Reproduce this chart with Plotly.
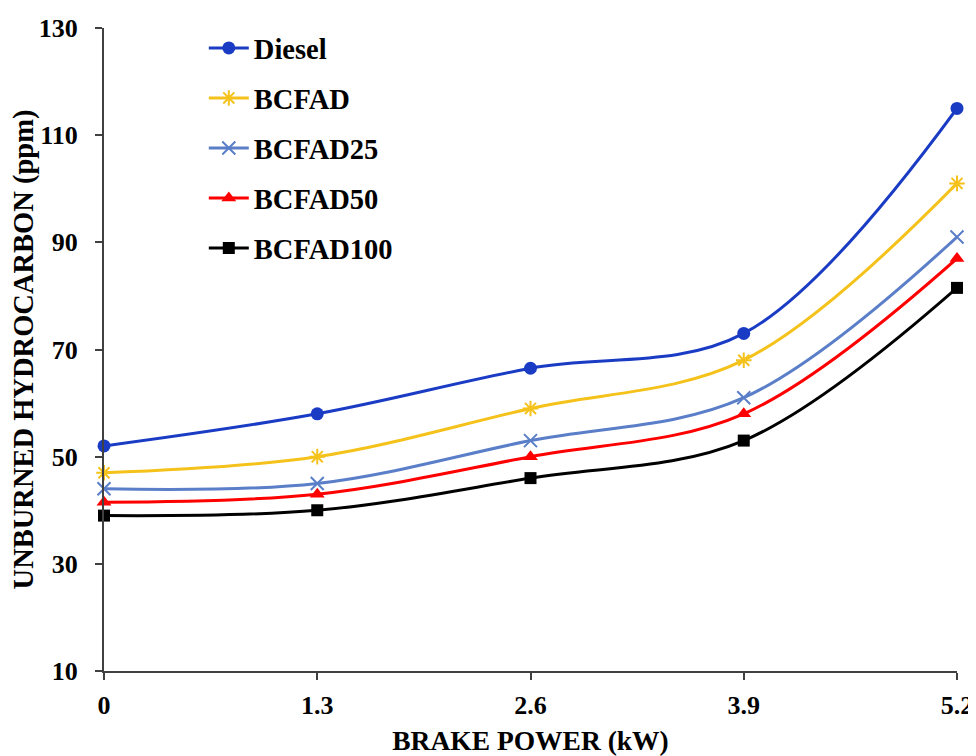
import plotly.graph_objects as go

brake_power = [0, 1.3, 2.6, 3.9, 5.2]
x_tick_labels = ["0", "1.3", "2.6", "3.9", "5.2"]
y_ticks = [10, 30, 50, 70, 90, 110, 130]

diesel = [52, 58, 66.5, 73, 115]
bcfad = [47, 50, 59, 68, 101]
bcfad25 = [44, 45, 53, 61, 91]
bcfad50 = [41.5, 43, 50, 58, 87]
bcfad100 = [39, 40, 46, 53, 81.5]

series = [
    ("Diesel", diesel, "#1a3cc4", "circle", 13),
    ("BCFAD", bcfad, "#f5c21b", "asterisk-open", 13),
    ("BCFAD25", bcfad25, "#5a7ec8", "x-thin-open", 13),
    ("BCFAD50", bcfad50, "#ff0000", "triangle-up", 13),
    ("BCFAD100", bcfad100, "#000000", "square", 12),
]

FONT = "Liberation Serif, Times New Roman, serif"

fig = go.Figure()
for i, (name, vals, color, sym, size) in enumerate(series):
    open_sym = sym.endswith("open")
    fig.add_trace(go.Scatter(
        x=brake_power, y=vals, name=name, mode="lines+markers",
        line=dict(color=color, width=3, shape="spline", smoothing=1.0),
        marker=dict(symbol=sym, size=size, color=color,
                    line=dict(color=color, width=2 if open_sym else 0)),
        cliponaxis=False, legendgroup=f"g{i}",
    ))

fig.update_layout(
    width=968, height=748,
    margin=dict(l=96, r=19, t=20, b=85),
    paper_bgcolor="white", plot_bgcolor="white",
    font=dict(family=FONT, size=26, color="black", weight="bold"),
    showlegend=True,
    legend=dict(x=0.117, y=1.008, xanchor="left", yanchor="top",
                bgcolor="rgba(0,0,0,0)", borderwidth=0,
                font=dict(family=FONT, size=28.5, color="black", weight="bold"),
                tracegroupgap=10, traceorder="grouped", itemwidth=40),
    xaxis=dict(range=[0, 5.2], tickvals=brake_power, ticktext=x_tick_labels,
               showgrid=False, zeroline=False, showline=True, linecolor="#404040",
               linewidth=2, ticks="outside", ticklen=7, tickcolor="#404040",
               tickwidth=2, ticklabelstandoff=3, automargin=False,
               title=dict(text="BRAKE POWER (kW)", standoff=39,
                          font=dict(family=FONT, size=27.5, weight="bold"))),
    yaxis=dict(range=[10, 130], tickvals=y_ticks,
               showgrid=False, zeroline=False, showline=True, linecolor="#404040",
               linewidth=2, ticks="outside", ticklen=7, tickcolor="#404040",
               tickwidth=2, ticklabelstandoff=12, automargin=False,
               title=dict(text="UNBURNED HYDROCARBON (ppm)", standoff=14,
                          font=dict(family=FONT, size=28.5, weight="bold"))),
)

fig.write_html("out.html")
